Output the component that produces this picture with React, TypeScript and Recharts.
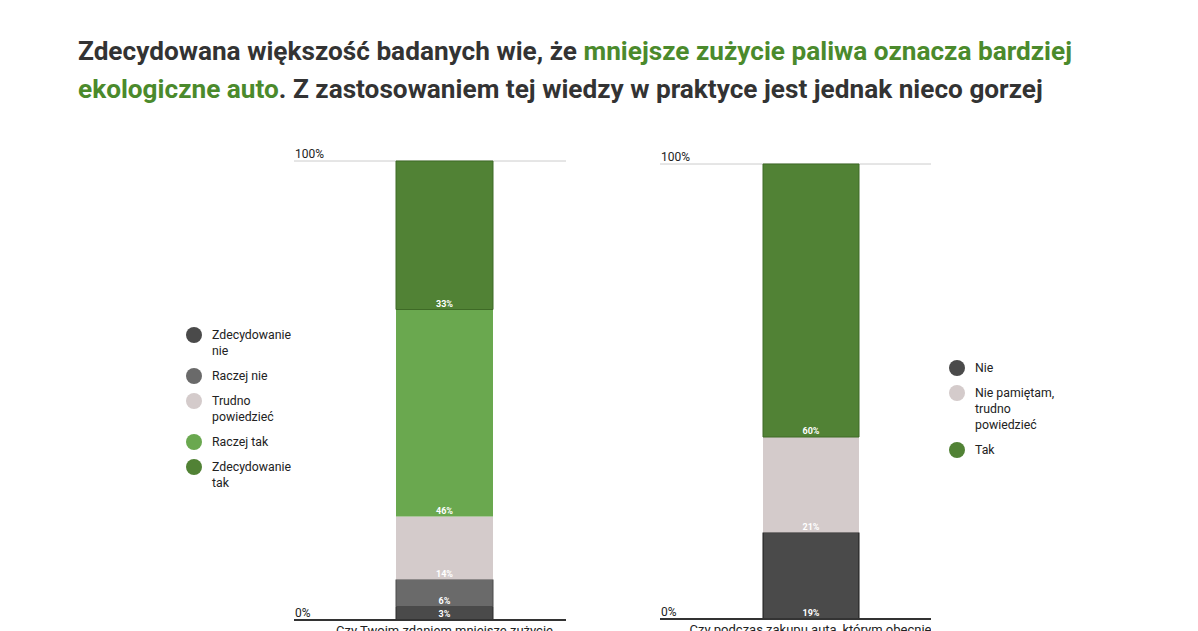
import React from "react";
import { BarChart, Bar, XAxis, YAxis, CartesianGrid, LabelList, Legend } from "recharts";

// ---- data ----
const TITLE_LINE1_A = "Zdecydowana większość badanych wie, że ";
const TITLE_GREEN_1 = "mniejsze zużycie paliwa oznacza bardziej";
const TITLE_GREEN_2 = "ekologiczne auto";
const TITLE_LINE2_B = ". Z zastosowaniem tej wiedzy w praktyce jest jednak nieco gorzej";

const CATEGORIES_1 = ["Czy Twoim zdaniem mniejsze zużycie paliwa oznacza bardziej ekologiczne auto?"];
const SERIES_1 = ["Zdecydowanie nie", "Raczej nie", "Trudno powiedzieć", "Raczej tak", "Zdecydowanie tak"];
const VALUES_1 = [3, 6, 14, 46, 33];

const CATEGORIES_2 = ["Czy podczas zakupu auta, którym obecnie jeździsz, brałeś pod uwagę jego wpływ na środowisko?"];
const SERIES_2 = ["Nie", "Nie pamiętam, trudno powiedzieć", "Tak"];
const VALUES_2 = [19, 21, 60];

const Y_TICKS = [0, 1];
const Y_TICK_LABELS = ["0%", "100%"];

// ---- styles ----
const COLORS_1 = ["#4a4a4a", "#6a6a6a", "#d4cbcb", "#6aa84f", "#518235"];
const STROKES_1 = ["#2a2a2a", "#4a4a4a", "none", "none", "#3e6a26"];
const COLORS_2 = ["#4a4a4a", "#d4cbcb", "#518235"];
const STROKES_2 = ["#1a1a1a", "none", "#3e6a26"];
const FONT = "Roboto, 'Noto Sans', sans-serif";
const MAX_LINE_CHARS = 39;

function buildRow(category: string, values: number[]) {
  const row: Record<string, any> = { name: category };
  values.forEach((v, i) => {
    row["s" + i] = v;
  });
  return [row];
}

function wrapWords(text: string, maxChars: number): string[] {
  const words = text.split(" ");
  const lines: string[] = [];
  let cur = "";
  words.forEach((w) => {
    const next = cur ? cur + " " + w : w;
    if (next.length > maxChars && cur) {
      lines.push(cur);
      cur = w;
    } else {
      cur = next;
    }
  });
  if (cur) lines.push(cur);
  return lines;
}

const XTick = (props: any) => {
  const { x, y, payload } = props;
  const lines = wrapWords(String(payload.value), MAX_LINE_CHARS);
  return (
    <text x={x} y={y + 15} textAnchor="middle" fontSize={13} fill="#222" fontFamily={FONT}>
      {lines.map((l, i) => (
        <tspan key={i} x={x} dy={i === 0 ? 0 : 16}>
          {l}
        </tspan>
      ))}
    </text>
  );
};

const YTick = (props: any) => {
  const { x, y, payload } = props;
  const idx = Y_TICKS.indexOf(payload.value);
  return (
    <text x={x} y={y - 3} fontSize={12} fill="#222" textAnchor="start" fontFamily={FONT}>
      {Y_TICK_LABELS[idx]}
    </text>
  );
};

const makeLegend = (order: string[]) => (props: any) => {
  const payload = [...(props.payload || [])].sort(
    (a: any, b: any) => order.indexOf(a.value) - order.indexOf(b.value)
  );
  return (
    <div style={{ fontFamily: FONT, fontSize: 12.3, color: "#222" }}>
      {payload.map((p: any, i: number) => (
        <div key={i} style={{ display: "flex", alignItems: "flex-start", marginBottom: 9 }}>
          <span
            style={{
              width: 16,
              height: 16,
              borderRadius: "50%",
              background: p.color,
              flex: "none",
              marginRight: 10,
            }}
          />
          <span style={{ lineHeight: "16px", width: 88 }}>{p.value}</span>
        </div>
      ))}
    </div>
  );
};

type PanelProps = {
  left: number;
  top: number;
  width: number;
  height: number;
  marginTop: number;
  padLeft: number;
  barSize: number;
  categories: string[];
  series: string[];
  values: number[];
  colors: string[];
  strokes: string[];
  legendLeft: number;
  legendTop: number;
};

const Panel = (p: PanelProps) => {
  const data = buildRow(p.categories[0], p.values);
  return (
    <div style={{ position: "absolute", left: p.left, top: p.top }}>
      <BarChart
        width={p.width}
        height={p.height}
        data={data}
        stackOffset="expand"
        margin={{ top: p.marginTop, right: 0, bottom: 0, left: 0 }}
        barSize={p.barSize}
      >
        <CartesianGrid horizontal vertical={false} stroke="#cccccc" />
        <XAxis
          dataKey="name"
          height={40}
          interval={0}
          tickLine={false}
          tickSize={0}
          tickMargin={0}
          padding={{ left: p.padLeft, right: 0 }}
          axisLine={{ stroke: "#333", strokeWidth: 2 }}
          tick={<XTick />}
        />
        <YAxis
          type="number"
          domain={[0, 1]}
          ticks={Y_TICKS}
          interval={0}
          mirror
          width={1}
          tickLine={false}
          tickSize={0}
          tickMargin={1}
          axisLine={false}
          tick={<YTick />}
        />
        <Legend
          layout="vertical"
          align="center"
          verticalAlign="middle"
          content={makeLegend(p.series)}
          wrapperStyle={{ left: p.legendLeft - p.left, top: p.legendTop - p.top, width: 120 }}
        />
        {p.series.map((s, i) => (
          <Bar
            key={s}
            dataKey={"s" + i}
            name={s}
            stackId="a"
            fill={p.colors[i]}
            stroke={p.strokes[i]}
            strokeWidth={1}
            isAnimationActive={false}
          >
            <LabelList
              dataKey={"s" + i}
              position="insideBottom"
              offset={3}
              formatter={(v: any) => `${v}%`}
              fill="#ffffff"
              fontSize={9}
              fontWeight="bold"
              fontFamily={FONT}
            />
          </Bar>
        ))}
      </BarChart>
    </div>
  );
};

export default function App() {
  return (
    <div
      style={{
        position: "absolute",
        left: 0,
        top: 0,
        width: 1198,
        height: 631,
        overflow: "hidden",
        background: "#fff",
        fontFamily: FONT,
      }}
    >
      <div
        style={{
          position: "absolute",
          left: 78,
          top: 32,
          width: 1110,
          fontSize: 26.2,
          fontWeight: 700,
          lineHeight: "38px",
          color: "#333",
          whiteSpace: "nowrap",
        }}
      >
        <div>
          {TITLE_LINE1_A}
          <span style={{ color: "#4b8a2c" }}>{TITLE_GREEN_1}</span>
        </div>
        <div>
          <span style={{ color: "#4b8a2c" }}>{TITLE_GREEN_2}</span>
          {TITLE_LINE2_B}
        </div>
      </div>
      <Panel
        left={294}
        top={140}
        width={272}
        height={520}
        marginTop={21}
        padLeft={29}
        barSize={97}
        categories={CATEGORIES_1}
        series={SERIES_1}
        values={VALUES_1}
        colors={COLORS_1}
        strokes={STROKES_1}
        legendLeft={186}
        legendTop={326.5}
      />
      <Panel
        left={660}
        top={140}
        width={271}
        height={519}
        marginTop={24}
        padLeft={30}
        barSize={96}
        categories={CATEGORIES_2}
        series={SERIES_2}
        values={VALUES_2}
        colors={COLORS_2}
        strokes={STROKES_2}
        legendLeft={949}
        legendTop={360}
      />
    </div>
  );
}
